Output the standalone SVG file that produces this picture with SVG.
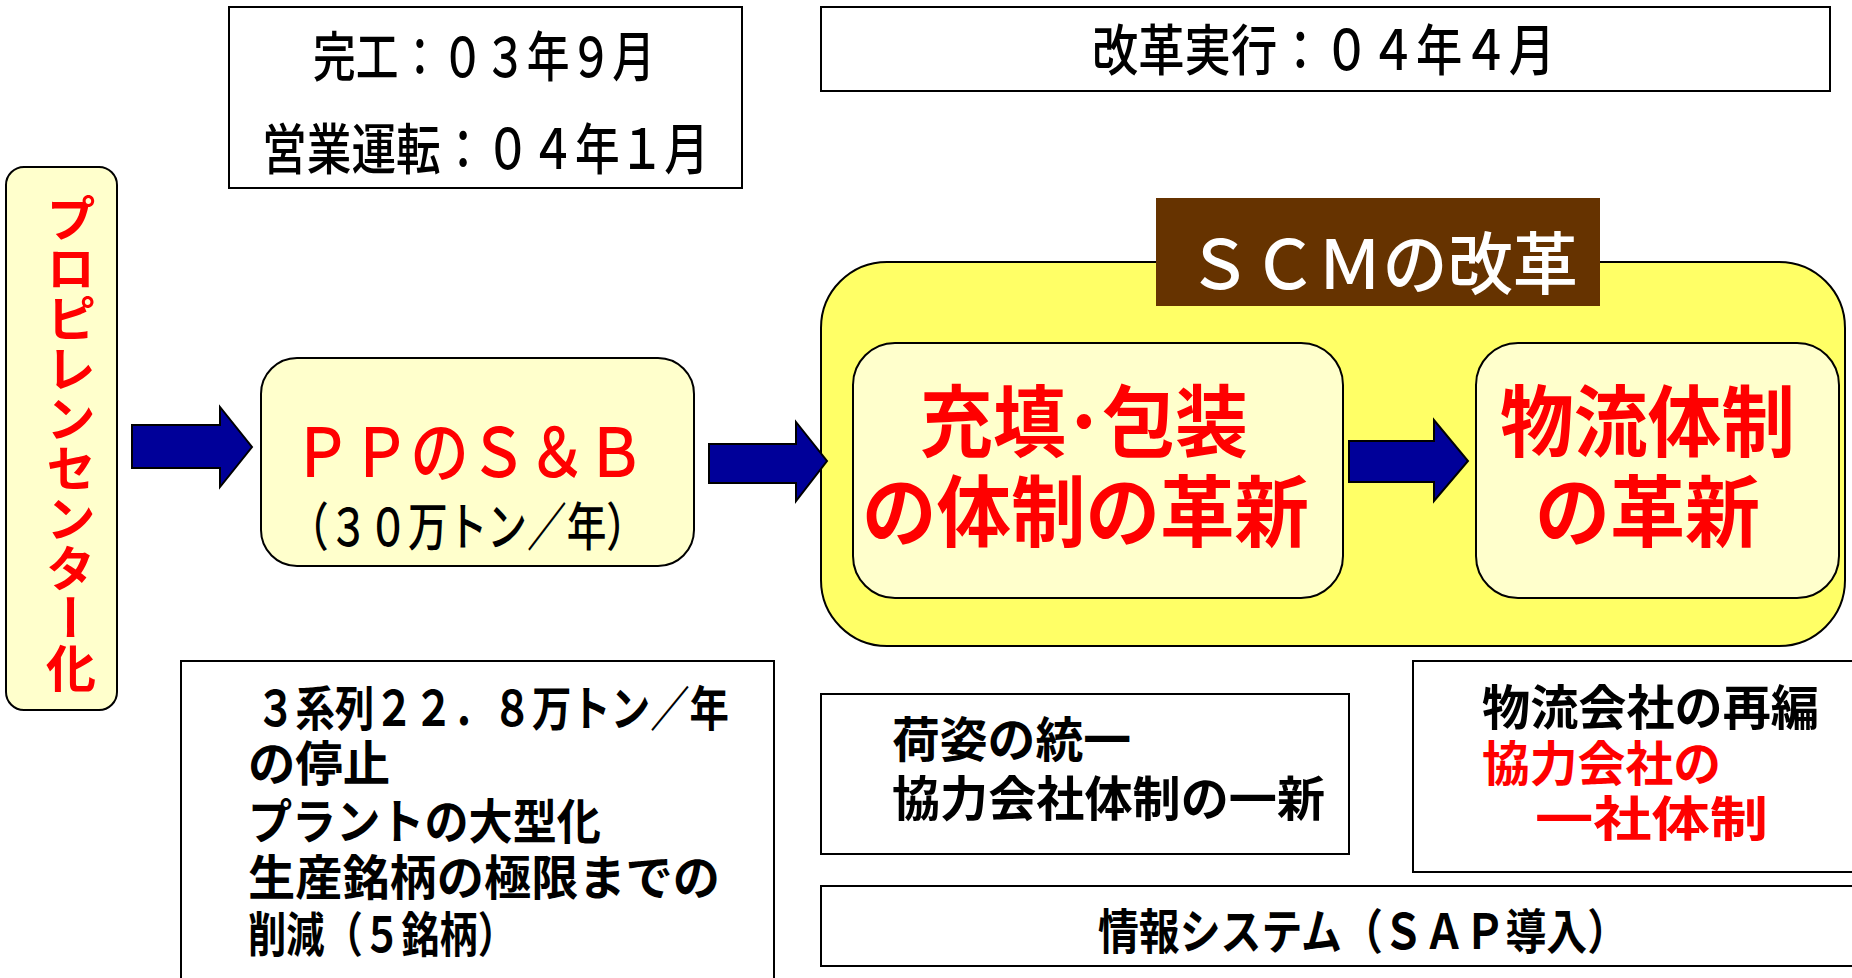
<svg xmlns="http://www.w3.org/2000/svg" width="1852" height="978" viewBox="0 0 1852 978">
<defs>
<style>
.box{fill:#FFFFFF;stroke:#000000;stroke-width:2}
.pale{fill:#FFFFCC;stroke:#000000;stroke-width:2}
.yel{fill:#FFFF66;stroke:#000000;stroke-width:2}
.arrow{fill:#000099;stroke:#000000;stroke-width:2;stroke-linejoin:miter}
text{font-family:"Noto Sans CJK JP","Noto Sans",sans-serif}
.blk{fill:#000000}
.red{fill:#FF0000}
.b{font-weight:bold}
.m{font-weight:500}
</style>
</defs>
<rect width="1852" height="978" fill="#FFFFFF"/>

<g id="completion">
<rect class="box" x="229" y="7" width="513" height="181"/>
<text class="blk m" x="313" y="77" font-size="54" textLength="342" lengthAdjust="spacingAndGlyphs">完工：０３年９月</text>
<text class="blk m" x="262" y="169" font-size="55" textLength="447" lengthAdjust="spacingAndGlyphs">営業運転：０４年１月</text>
</g>

<g id="reform-date">
<rect class="box" x="821" y="7" width="1009" height="84"/>
<text class="blk m" x="1092" y="70" font-size="55" textLength="463" lengthAdjust="spacingAndGlyphs">改革実行：０４年４月</text>
</g>

<g id="propylene-center">
<rect class="pale" x="6" y="167" width="111" height="543" rx="18" ry="18"/>
<text class="red b" x="71" y="193" font-size="50" writing-mode="vertical-rl" style="writing-mode:vertical-rl;text-orientation:mixed">プロピレンセンター化</text>
</g>

<g id="pp-sb">
<rect class="pale" x="261" y="358" width="433" height="208" rx="36" ry="36"/>
<text class="red m" x="293" y="477" font-size="68" textLength="352" lengthAdjust="spacingAndGlyphs">ＰＰのＳ＆Ｂ</text>
<text class="blk m" x="289" y="546" font-size="52" textLength="357" lengthAdjust="spacingAndGlyphs">（３０万トン／年）</text>
</g>

<g id="scm">
<rect class="yel" x="821" y="262" width="1024" height="384" rx="66" ry="66"/>
<rect x="1156" y="198" width="444" height="108" fill="#663300"/>
<text class="m" x="1187" y="289" font-size="68" fill="#FFFFFF" textLength="391" lengthAdjust="spacingAndGlyphs">ＳＣＭの改革</text>
</g>

<g id="packing">
<rect class="pale" x="853" y="343" width="490" height="255" rx="42" ry="42"/>
<text class="red b" x="920" y="451" font-size="78" textLength="328" lengthAdjust="spacingAndGlyphs">充填･包装</text>
<text class="red b" x="862" y="541" font-size="78" textLength="447" lengthAdjust="spacingAndGlyphs">の体制の革新</text>
</g>

<g id="logistics">
<rect class="pale" x="1476" y="343" width="363" height="255" rx="42" ry="42"/>
<text class="red b" x="1500" y="451" font-size="78" textLength="295" lengthAdjust="spacingAndGlyphs">物流体制</text>
<text class="red b" x="1535" y="541" font-size="78" textLength="225" lengthAdjust="spacingAndGlyphs">の革新</text>
</g>

<g id="plant-notes">
<rect class="box" x="181" y="661" width="593" height="330"/>
<text class="blk b" x="256" y="726" font-size="48" textLength="473" lengthAdjust="spacingAndGlyphs">３系列２２．８万トン／年</text>
<text class="blk b" x="248" y="781" font-size="48" textLength="142" lengthAdjust="spacingAndGlyphs">の停止</text>
<text class="blk b" x="248" y="839" font-size="48" textLength="353" lengthAdjust="spacingAndGlyphs">プラントの大型化</text>
<text class="blk b" x="248" y="895" font-size="48" textLength="472" lengthAdjust="spacingAndGlyphs">生産銘柄の極限までの</text>
<text class="blk b" x="248" y="952" font-size="48" textLength="268" lengthAdjust="spacingAndGlyphs">削減（５銘柄）</text>
</g>

<g id="packing-notes">
<rect class="box" x="821" y="694" width="528" height="160"/>
<text class="blk b" x="892" y="757" font-size="48" textLength="239" lengthAdjust="spacingAndGlyphs">荷姿の統一</text>
<text class="blk b" x="892" y="816" font-size="48" textLength="433" lengthAdjust="spacingAndGlyphs">協力会社体制の一新</text>
</g>

<g id="logistics-notes">
<rect class="box" x="1413" y="661" width="460" height="211"/>
<text class="blk b" x="1482" y="725" font-size="48" textLength="337" lengthAdjust="spacingAndGlyphs">物流会社の再編</text>
<text class="red b" x="1482" y="781" font-size="48" textLength="239" lengthAdjust="spacingAndGlyphs">協力会社の</text>
<text class="red b" x="1535" y="836" font-size="48" textLength="233" lengthAdjust="spacingAndGlyphs">一社体制</text>
</g>

<g id="info-system">
<rect class="box" x="821" y="886" width="1052" height="80"/>
<text class="blk b" x="1098" y="949" font-size="48" textLength="530" lengthAdjust="spacingAndGlyphs">情報システム（ＳＡＰ導入）</text>
</g>

<g id="connectors">
<polygon class="arrow" points="132,425 220,425 220,407 252,447 220,487 220,468 132,468"/>
<polygon class="arrow" points="709,444 796,444 796,422 827,461 796,501 796,483 709,483"/>
<polygon class="arrow" points="1349,441 1434,441 1434,420 1468,461 1434,501 1434,482 1349,482"/>
</g>
</svg>
